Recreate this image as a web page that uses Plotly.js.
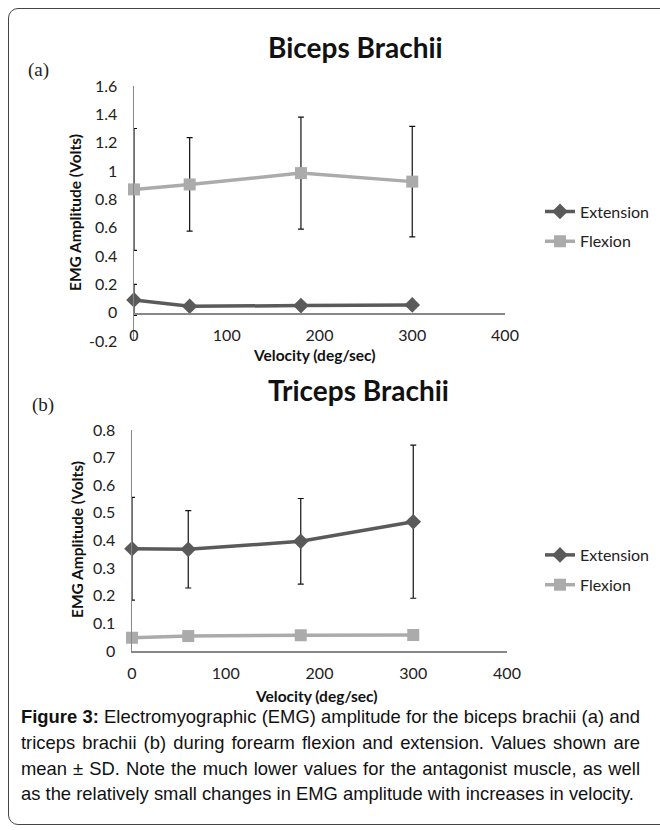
<!DOCTYPE html>
<html>
<head>
<meta charset="utf-8">
<script src="https://cdn.plot.ly/plotly-3.0.1.min.js"></script>
<style>
  html, body { margin: 0; padding: 0; background: #fff; }
  #wrap { position: relative; width: 660px; height: 830px; overflow: hidden; }
  #frame { position: absolute; left: 8px; top: 8px; width: 662px; height: 817px;
           border: 1px solid #444; border-radius: 10px; box-sizing: border-box; }
  #chart { position: absolute; left: 0; top: 0; width: 660px; height: 830px; }
  #caption { position: absolute; left: 21px; top: 704px; width: 619px;
             font-family: "Liberation Sans", Arial, sans-serif; font-size: 18.4px;
             line-height: 25.8px; color: #111; }
  #caption span { display: block; white-space: nowrap; }
  #caption span.j { text-align: justify; text-align-last: justify; }
</style>
</head>
<body>
<div id="wrap">
  <div id="frame"></div>
  <div id="chart"></div>
  <div id="caption"><span class="j"><b>Figure 3:</b> Electromyographic (EMG) amplitude for the biceps brachii (a) and</span><span class="j">triceps brachii (b) during forearm flexion and extension. Values shown are</span><span class="j">mean ± SD. Note the much lower values for the antagonist muscle, as well</span><span>as the relatively small changes in EMG amplitude with increases in velocity.</span></div>
</div>
<script>
// ---- data ----
const velocity = [0, 60, 180, 300];

const bicepsExtension = [0.09, 0.045, 0.05, 0.055];
const bicepsExtensionSD = [0.11, 0.01, 0.01, 0.01];
const bicepsFlexion = [0.87, 0.905, 0.985, 0.925];
const bicepsFlexionSD = [0.43, 0.33, 0.395, 0.39];

const tricepsExtension = [0.37, 0.368, 0.397, 0.468];
const tricepsExtensionSD = [0.186, 0.14, 0.155, 0.277];
const tricepsFlexion = [0.048, 0.054, 0.057, 0.058];
const tricepsFlexionSD = [0.005, 0.005, 0.005, 0.005];

const xTickVals = [0, 100, 200, 300, 400];
const xTickText = ['0', '100', '200', '300', '400'];
const yTopTickVals = [-0.2, 0, 0.2, 0.4, 0.6, 0.8, 1, 1.2, 1.4, 1.6];
const yTopTickText = ['-0.2', '0', '0.2', '0.4', '0.6', '0.8', '1', '1.2', '1.4', '1.6'];
const yBotTickVals = [0, 0.1, 0.2, 0.3, 0.4, 0.5, 0.6, 0.7, 0.8];
const yBotTickText = ['0', '0.1', '0.2', '0.3', '0.4', '0.5', '0.6', '0.7', '0.8'];

const seriesNames = ['Extension', 'Flexion'];
const chartTitles = ['Biceps Brachii', 'Triceps Brachii'];
const panelLabels = ['(a)', '(b)'];
const xTitle = 'Velocity (deg/sec)';
const yTitle = 'EMG Amplitude (Volts)';

// ---- styling ----
const W = 660, H = 830;
const px = v => v / W;
const py = v => 1 - v / H;
const extColor = '#5a5a5a';
const flxColor = '#ababab';
const font = 'Lato, "Open Sans", sans-serif';

function trace(x, y, sd, name, color, symbol, xa, ya, legend, group) {
  return {
    x: x, y: y, name: name, type: 'scatter', mode: 'lines+markers',
    xaxis: xa, yaxis: ya, legend: legend, legendgroup: group,
    line: { color: color, width: 3.5 },
    marker: { color: color, symbol: symbol, size: 12 },
    error_y: { type: 'data', array: sd, visible: true, color: '#111', thickness: 1.2, width: 3 },
    cliponaxis: false
  };
}

const data = [
  trace(velocity, bicepsExtension, bicepsExtensionSD, seriesNames[0], extColor, 'diamond', 'x', 'y', 'legend', 'a1'),
  trace(velocity, bicepsFlexion, bicepsFlexionSD, seriesNames[1], flxColor, 'square', 'x', 'y', 'legend', 'a2'),
  trace(velocity, tricepsExtension, tricepsExtensionSD, seriesNames[0], extColor, 'diamond', 'x2', 'y2', 'legend2', 'b1'),
  trace(velocity, tricepsFlexion, tricepsFlexionSD, seriesNames[1], flxColor, 'square', 'x2', 'y2', 'legend2', 'b2')
];

const axisCommon = {
  showgrid: false, zeroline: false, showline: true, linecolor: '#888', linewidth: 1.5,
  ticks: '', tickfont: { family: font, size: 16, color: '#222' }, fixedrange: true
};

const legendCommon = {
  font: { family: font, size: 16, color: '#222' }, bgcolor: 'rgba(0,0,0,0)',
  xanchor: 'left', yanchor: 'middle', traceorder: 'grouped', tracegroupgap: 6, itemwidth: 30
};

const titleFont = { family: font, size: 28, color: '#111', weight: 'bold' };
const axisTitleFont = { family: font, size: 15.5, color: '#111', weight: 'bold' };
const panelFont = { family: '"Liberation Serif", serif', size: 19, color: '#222' };

function ann(text, x, y, f, extra) {
  return Object.assign({ text: text, x: px(x), y: py(y), xref: 'paper', yref: 'paper',
    showarrow: false, font: f, xanchor: 'center', yanchor: 'middle' }, extra || {});
}

const layout = {
  width: W, height: H,
  margin: { l: 0, r: 0, t: 0, b: 0 },
  paper_bgcolor: 'rgba(0,0,0,0)', plot_bgcolor: 'rgba(0,0,0,0)',
  showlegend: true,
  xaxis: Object.assign({}, axisCommon, {
    domain: [px(134), px(505)], range: [0, 400], tickvals: xTickVals, ticktext: xTickText,
    anchor: 'free', position: py(313), ticklabelstandoff: 7
  }),
  yaxis: Object.assign({}, axisCommon, {
    domain: [py(341), py(86)], range: [-0.2, 1.6], tickvals: yTopTickVals, ticktext: yTopTickText,
    anchor: 'x', ticklabelstandoff: 12
  }),
  xaxis2: Object.assign({}, axisCommon, {
    domain: [px(132), px(507)], range: [0, 400], tickvals: xTickVals, ticktext: xTickText,
    anchor: 'y2', ticklabelstandoff: 7
  }),
  yaxis2: Object.assign({}, axisCommon, {
    domain: [py(651), py(430)], range: [0, 0.8], tickvals: yBotTickVals, ticktext: yBotTickText,
    anchor: 'x2', ticklabelstandoff: 12
  }),
  legend: Object.assign({}, legendCommon, { x: px(540), y: py(226.5) }),
  legend2: Object.assign({}, legendCommon, { x: px(540), y: py(570) }),
  annotations: [
    ann(chartTitles[0], 355, 47, titleFont),
    ann(chartTitles[1], 358, 390, titleFont),
    ann(panelLabels[0], 26, 70, panelFont, { xanchor: 'left' }),
    ann(panelLabels[1], 30, 405, panelFont, { xanchor: 'left' }),
    ann(xTitle, 314, 355, axisTitleFont),
    ann(xTitle, 316, 696, axisTitleFont),
    ann(yTitle, 75, 213, axisTitleFont, { textangle: -90 }),
    ann(yTitle, 77, 540, axisTitleFont, { textangle: -90 })
  ]
};

Plotly.newPlot('chart', data, layout, { staticPlot: true, displayModeBar: false });
</script>
</body>
</html>
